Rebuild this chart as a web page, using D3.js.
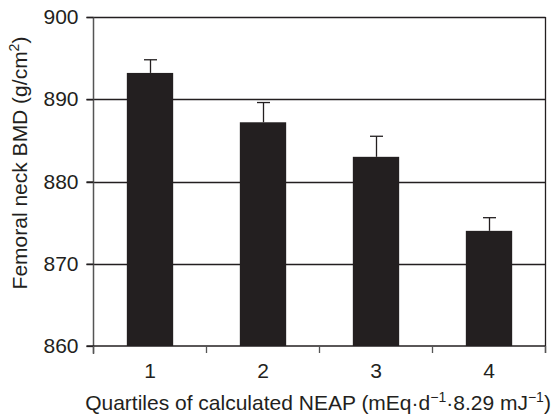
<!DOCTYPE html>
<html>
<head>
<meta charset="utf-8">
<script src="https://cdn.jsdelivr.net/npm/d3@7"></script>
<style>
  html, body { margin: 0; padding: 0; background: #fff; }
  svg text { font-family: "Liberation Sans", Arial, sans-serif; fill: #231f20; }
</style>
</head>
<body>
<svg id="chart" width="556" height="417"></svg>
<script>
// Femoral neck BMD by quartile of calculated NEAP
const categories = ["1", "2", "3", "4"];
const bmdMean = [893.2, 887.2, 883.0, 874.0];
const bmdError = [1.6, 2.4, 2.5, 1.6];
const yTicks = [860, 870, 880, 890, 900];

const margin = { left: 93.5, right: 10.5, top: 17, bottom: 71 };
const W = 556, H = 417;
const fontPx = "21px";
const supPx = "14px";
const svg = d3.select("#chart");

const x = d3.scaleBand()
  .domain(categories)
  .range([margin.left, W - margin.right])
  .paddingInner(0.59)
  .paddingOuter(0.295);

const xOuter = d3.scaleBand()
  .domain(categories)
  .range([margin.left, W - margin.right]);

const y = d3.scaleLinear()
  .domain([860, 900])
  .range([H - margin.bottom, margin.top]);

const ink = "#231f20";

// horizontal gridlines (including top border at 900)
svg.append("g")
  .selectAll("line")
  .data(yTicks.filter(d => d > 860))
  .join("line")
  .attr("x1", margin.left - 7)
  .attr("x2", W - margin.right)
  .attr("y1", d => Math.round(y(d)) + 0.5)
  .attr("y2", d => Math.round(y(d)) + 0.5)
  .attr("stroke", ink)
  .attr("stroke-width", 1.3);

// right border
svg.append("line")
  .attr("x1", W - margin.right).attr("x2", W - margin.right)
  .attr("y1", y(900)).attr("y2", y(860) + 7)
  .attr("stroke", ink).attr("stroke-width", 1.3);

// bars
svg.append("g")
  .selectAll("rect")
  .data(bmdMean)
  .join("rect")
  .attr("x", (d, i) => x(categories[i]))
  .attr("width", x.bandwidth())
  .attr("y", d => y(d))
  .attr("height", d => y(860) - y(d))
  .attr("fill", ink);

// error bars (upper only)
const eb = svg.append("g").attr("stroke", ink).attr("stroke-width", 1.3);
bmdMean.forEach((m, i) => {
  const cx = Math.round(x(categories[i]) + x.bandwidth() / 2) + 0.5;
  const top = y(m + bmdError[i]);
  eb.append("line").attr("x1", cx).attr("x2", cx).attr("y1", y(m)).attr("y2", top);
  eb.append("line").attr("x1", cx - 6.5).attr("x2", cx + 6.5).attr("y1", top).attr("y2", top);
});

// y axis
const yAxis = svg.append("g")
  .attr("transform", `translate(${margin.left},0)`)
  .call(d3.axisLeft(y).tickValues(yTicks).tickSize(7).tickPadding(8).tickFormat(d3.format("d")));
yAxis.select(".domain").attr("stroke", "#555").attr("stroke-width", 1.5)
  .attr("d", `M0,${y(900)}V${y(860) + 8}`);
yAxis.selectAll(".tick line").attr("stroke", ink).attr("stroke-width", 1.3);
yAxis.selectAll(".tick text").style("font-size", fontPx).attr("fill", ink);

// x axis
const xAxisG = svg.append("g")
  .attr("transform", `translate(0,${y(860)})`);
xAxisG.append("line")
  .attr("x1", margin.left - 7).attr("x2", W - margin.right)
  .attr("y1", 0).attr("y2", 0)
  .attr("stroke", ink).attr("stroke-width", 1.3);
// tick marks at category boundaries
const bounds = categories.map(c => xOuter(c)).concat([W - margin.right]);
xAxisG.selectAll("line.tk")
  .data(bounds)
  .join("line")
  .attr("class", "tk")
  .attr("x1", d => d).attr("x2", d => d)
  .attr("y1", 0).attr("y2", 7)
  .attr("stroke", "#555").attr("stroke-width", 1.3);
xAxisG.selectAll("text.lbl")
  .data(categories)
  .join("text")
  .attr("class", "lbl")
  .attr("x", d => xOuter(d) + xOuter.bandwidth() / 2)
  .attr("y", 32)
  .attr("text-anchor", "middle")
  .style("font-size", fontPx)
  .text(d => d);

// x axis title
const xt = svg.append("text")
  .attr("x", 318)
  .attr("y", 410)
  .attr("text-anchor", "middle")
  .style("font-size", fontPx);
xt.append("tspan").text("Quartiles of calculated NEAP (mEq\u00b7d");
xt.append("tspan").attr("dy", -8).style("font-size", supPx).text("\u22121");
xt.append("tspan").attr("dy", 8).text("\u00b78.29 mJ");
xt.append("tspan").attr("dy", -8).style("font-size", supPx).text("\u22121");
xt.append("tspan").attr("dy", 8).text(")");

// y axis title
const yt = svg.append("text")
  .attr("transform", `translate(27,163) rotate(-90)`)
  .attr("text-anchor", "middle")
  .style("font-size", fontPx);
yt.append("tspan").text("Femoral neck BMD (g/cm");
yt.append("tspan").attr("dy", -8).style("font-size", supPx).text("2");
yt.append("tspan").attr("dy", 8).text(")");
</script>
</body>
</html>
